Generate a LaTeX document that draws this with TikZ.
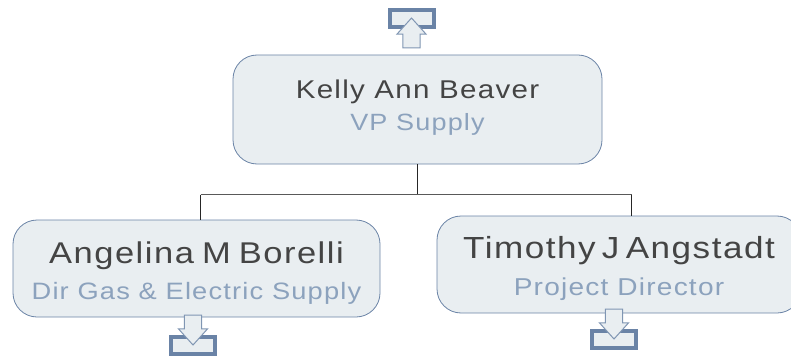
\documentclass[tikz,border=0pt]{standalone}
\usepackage{fontspec}
\usepackage{tikz}
\usetikzlibrary{shapes.arrows}
\newfontfamily\boxfont[FakeStretch=1.15,LetterSpace=5]{Liberation Sans}
\definecolor{boxfill}{HTML}{E9EEF1}
\definecolor{boxline}{HTML}{6A83A6}
\definecolor{namecolor}{HTML}{444444}
\definecolor{titlecolor}{HTML}{8CA2BD}
\newcommand{\namegap}[1]{\hspace{#1}}

\begin{document}
\begin{tikzpicture}[x=1pt, y=-1pt,
      every node/.append style={font=\boxfont,align=center,inner sep=0pt,outer sep=0pt}]
    \tikzstyle{person} = [draw=boxline,fill=boxfill,line width=0.8pt,rounded corners=24pt]
    \tikzstyle{tray} = [draw=boxline,fill=boxfill,line width=3.6pt,minimum width=44.5pt,minimum height=17.5pt]
    \tikzstyle{pointer} = [draw=boxline!85!white,fill=boxfill,line width=1pt,single arrow,inner sep=8.2pt,anchor=tip,
      minimum height=30pt,single arrow head extend=5.8pt,single arrow tip angle=84]
    \tikzstyle{wire} = [black!85,line width=0.8pt]
    \useasboundingbox (0,0) rectangle (791,358);

    \node (kelly) [person,minimum width=369pt,minimum height=109pt] at (417.5,109.5)
      {\fontsize{25.7}{30}\selectfont\color{namecolor}Kelly Ann Beaver\\[9pt]
       \fontsize{23.5}{30}\selectfont\color{titlecolor}\rule[-8pt]{0pt}{10pt}VP Supply};
    \node (angelina) [person,minimum width=367pt,minimum height=97pt] at (196.5,268.5)
      {\fontsize{30}{34}\selectfont\color{namecolor}\rule{0pt}{31pt}Angelina\namegap{-3pt} M\namegap{-3pt} Borelli\\[12pt]
       \fontsize{23.7}{30}\selectfont\color{titlecolor}Dir Gas \& Electric Supply};
    \node (timothy) [person,minimum width=364pt,minimum height=97pt] at (619,264.5)
      {\fontsize{30.5}{34}\selectfont\color{namecolor}\rule{0pt}{31pt}Timothy\namegap{-5pt} J\namegap{-5pt} Angstadt\\[12pt]
       \fontsize{24.4}{30}\selectfont\color{titlecolor}Project Director};

    \coordinate (busmid) at (417,194.5);
    \coordinate (busleft) at (200.5,194.5);
    \coordinate (busright) at (631.5,194.5);
    \coordinate (leftdrop) at (200.5,220);
    \coordinate (rightdrop) at (631.5,216);
    \draw [wire] (busmid |- kelly.south) -- (busmid);
    \draw [black!65,line width=1.3pt] (busleft) -- (busright);
    \draw [wire] (busleft) -- (leftdrop);
    \draw [wire] (busright) -- (rightdrop);

    \node (kellytray) [tray] at (412,18.5) {};
    \node (kellyarrow) [pointer,shape border rotate=90] at (411.5,18) {};
    \node (angelinatray) [tray] at (193,345.5) {};
    \node (angelinaarrow) [pointer,shape border rotate=270] at (193,345) {};
    \node (timothytray) [tray] at (614,339.5) {};
    \node (timothyarrow) [pointer,shape border rotate=270] at (614,339) {};
\end{tikzpicture}
\end{document}
